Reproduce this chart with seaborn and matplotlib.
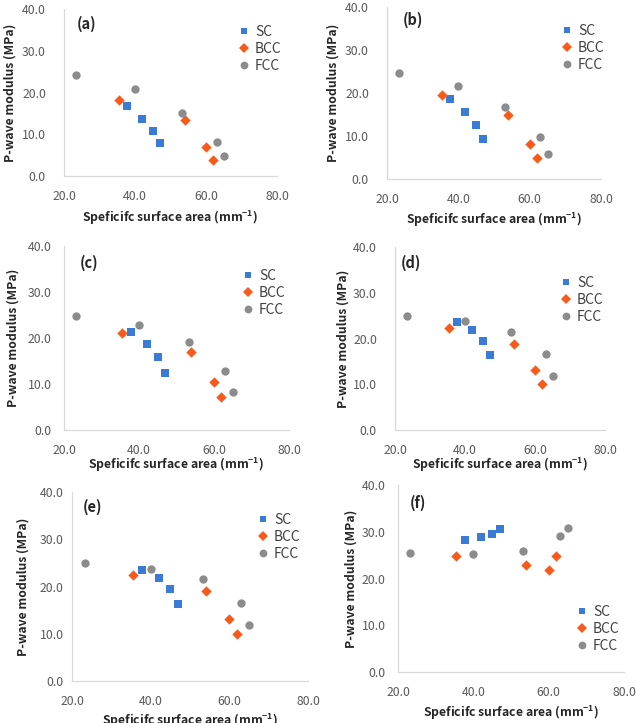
import matplotlib
matplotlib.use("Agg")
import matplotlib.pyplot as plt
import seaborn as sns
import pandas as pd
from matplotlib.lines import Line2D

# ---------------- data ----------------
structures = ["SC", "BCC", "FCC"]
x_sc = [37.8, 42.0, 45.0, 47.0]
x_bcc = [35.5, 54.0, 60.0, 62.0]
x_fcc = [23.3, 40.0, 53.2, 63.0, 65.0]

panel_names = ["(a)", "(b)", "(c)", "(d)", "(e)", "(f)"]
sc_vals = [
    [16.8, 13.7, 10.7, 7.8],
    [18.6, 15.6, 12.5, 9.4],
    [21.2, 18.7, 15.8, 12.4],
    [23.5, 21.8, 19.4, 16.4],
    [23.5, 21.7, 19.4, 16.4],
    [28.2, 28.8, 29.5, 30.5],
]
bcc_vals = [
    [18.2, 13.4, 6.9, 3.8],
    [19.5, 14.9, 8.1, 5.0],
    [21.0, 16.9, 10.4, 7.2],
    [22.3, 18.9, 13.2, 10.0],
    [22.4, 19.0, 13.2, 9.9],
    [24.8, 22.8, 21.9, 24.9],
]
fcc_vals = [
    [24.2, 20.8, 15.2, 8.2, 4.8],
    [24.6, 21.7, 16.7, 9.8, 5.9],
    [24.7, 22.9, 19.2, 12.9, 8.3],
    [25.0, 23.9, 21.5, 16.6, 11.8],
    [25.0, 23.8, 21.5, 16.6, 11.8],
    [25.4, 25.2, 25.9, 29.1, 30.9],
]
x_ticks = [20.0, 40.0, 60.0, 80.0]
y_ticks = [0.0, 10.0, 20.0, 30.0, 40.0]
x_label = "Speficifc surface area (mm$^{\\mathbf{-1}}$)"
y_label = "P-wave modulus (MPa)"

# ---------------- style ----------------
sns.set_theme(style="white")
plt.rcParams["font.family"] = ["Noto Sans CJK KR", "DejaVu Sans"]
plt.rcParams["mathtext.fontset"] = "custom"
plt.rcParams["mathtext.bf"] = "Noto Sans CJK KR:bold"
plt.rcParams["mathtext.rm"] = "Noto Sans CJK KR"

palette = {"SC": "#3a7bd5", "BCC": "#f75a1a", "FCC": "#8c8c8c"}
markers = {"SC": "s", "BCC": "D", "FCC": "o"}
sizes = {"SC": 30, "BCC": 28, "FCC": 36}
leg_ms = {"SC": 5.0, "BCC": 4.6, "FCC": 5.6}

W, H = 636, 723
fig = plt.figure(figsize=(W / 100, H / 100), dpi=100)

# axes boxes in pixels: left, right, top, bottom
boxes = [
    (64, 277, 9, 176),
    (387, 601, 7, 179),
    (64, 289, 246, 430),
    (395, 605, 247, 430),
    (72, 308, 492, 681),
    (398, 624, 485, 672),
]
ytick_pad = [13, 13, 9, 13, 6, 9]
ylab_off = [54, 54, 51, 52, 49, 47]
xlab_off = [42, 41, 35, 35, 40, 41]
legend_pos = [(243, 34), (566, 33), (247, 278), (565, 285), (262, 522), (581, 614)]
tag_pos = [(77, 24), (403, 20), (80, 263), (401, 263), (83, 507), (410, 503)]


def fx(px):
    return px / W


def fy(py):
    return 1 - py / H


for i in range(6):
    l, r, t, b = boxes[i]
    ax = fig.add_axes([fx(l), fy(b), (r - l) / W, (b - t) / H])
    df = pd.concat([
        pd.DataFrame({"x": x_sc, "y": sc_vals[i], "s": "SC"}),
        pd.DataFrame({"x": x_bcc, "y": bcc_vals[i], "s": "BCC"}),
        pd.DataFrame({"x": x_fcc, "y": fcc_vals[i], "s": "FCC"}),
    ])
    for st in structures:
        sub = df[df["s"] == st]
        sns.scatterplot(data=sub, x="x", y="y", color=palette[st],
                        marker=markers[st], s=sizes[st], linewidth=0,
                        ax=ax, legend=False, clip_on=False, zorder=3)
    ax.set_xlim(20, 80)
    ax.set_ylim(0, 40)
    ax.set_xticks(x_ticks)
    ax.set_yticks(y_ticks)
    ax.set_xticklabels([f"{v:.1f}" for v in x_ticks])
    ax.set_yticklabels([f"{v:.1f}" for v in y_ticks])
    ax.set_xlabel("")
    ax.set_ylabel("")
    for sp in ["top", "right"]:
        ax.spines[sp].set_visible(False)
    for sp in ["left", "bottom"]:
        ax.spines[sp].set_color("#d9d9d9")
        ax.spines[sp].set_linewidth(0.9)
    ax.tick_params(axis="both", direction="out", length=3, width=0.8,
                   color="#d9d9d9", labelcolor="#595959", labelsize=8.8)
    ax.tick_params(axis="x", pad=7)
    ax.tick_params(axis="y", pad=ytick_pad[i], length=0)

    # axis titles
    fig.text(fx((l + r) / 2), fy(b + xlab_off[i]), x_label, ha="center",
             va="center", fontsize=8.8, fontweight="bold", color="#262626")
    fig.text(fx(l - ylab_off[i]), fy((t + b) / 2), y_label, ha="center",
             va="center", rotation=90, fontsize=8.8, fontweight="bold",
             color="#262626")
    # panel tag
    fig.text(fx(tag_pos[i][0]), fy(tag_pos[i][1]), panel_names[i], ha="left",
             va="center", fontsize=10.5, fontweight="bold", color="#262626")

    # legend
    handles = [Line2D([], [], linestyle="none", marker=markers[st],
                      color=palette[st], markersize=leg_ms[st],
                      markeredgewidth=0) for st in structures]
    lx, ly = legend_pos[i]
    ax.legend(handles, structures, loc="upper left",
              bbox_to_anchor=(fx(lx - 6), fy(ly - 9)),
              bbox_transform=fig.transFigure, frameon=False,
              borderpad=0, borderaxespad=0, handlelength=1.0,
              handletextpad=0.3, labelspacing=0.2, fontsize=10,
              labelcolor="#404040")

fig.savefig("out.png", dpi=100)
